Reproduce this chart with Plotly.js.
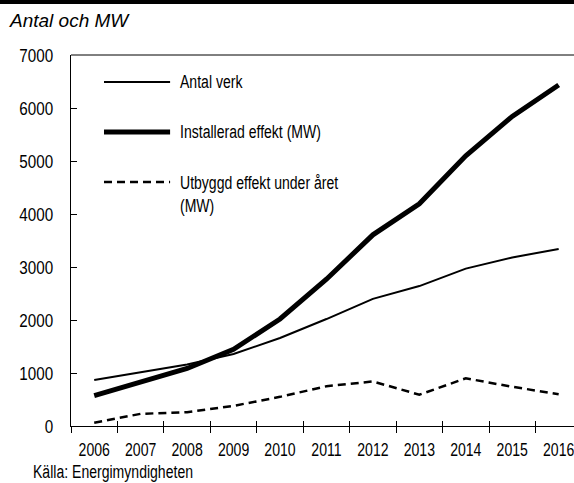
<!DOCTYPE html>
<html>
<head>
<meta charset="utf-8">
<script src="https://cdn.plot.ly/plotly-3.0.1.min.js"></script>
<style>html,body{margin:0;padding:0;background:#fff;overflow:hidden}#chart{width:574px;height:483px}</style>
</head>
<body>
<div id="chart"></div>
<script>
const years = ['2006','2007','2008','2009','2010','2011','2012','2013','2014','2015','2016'];
const antalVerk = [867, 1010, 1160, 1359, 1660, 2018, 2399, 2640, 2970, 3180, 3340];
const installeradEffekt = [572, 831, 1085, 1448, 2019, 2769, 3607, 4194, 5097, 5842, 6434];
const utbyggdEffekt = [62, 230, 260, 380, 550, 750, 840, 590, 900, 740, 600];
const seriesNames = ['Antal verk', 'Installerad effekt (MW)', 'Utbyggd effekt under året<br>(MW)'];

const FONT = '"Liberation Sans", Arial, sans-serif';
const f = (size) => ({family: FONT, size: size, color: '#000'});

const traces = [
  {x: years, y: antalVerk, name: seriesNames[0], type: 'scatter', mode: 'lines', line: {color: '#000', width: 2}},
  {x: years, y: installeradEffekt, name: seriesNames[1], type: 'scatter', mode: 'lines', line: {color: '#000', width: 5}},
  {x: years, y: utbyggdEffekt, name: seriesNames[2], type: 'scatter', mode: 'lines', line: {color: '#000', width: 2.5, dash: '8px,5px'}},
  {x: years, y: years.map(() => null), xaxis: 'x2', type: 'scatter', mode: 'lines', showlegend: false, hoverinfo: 'skip'}
];

const legY = [0.927, 0.7925, 0.6577];
const legX0 = 0.0656, legX1 = 0.197, legTX = 0.213;
const shapes = [
  {type: 'line', xref: 'paper', yref: 'paper', x0: 0, x1: 1, y0: 1, y1: 1, line: {color: '#000', width: 1}},
  {type: 'rect', xref: 'paper', yref: 'paper', x0: -0.2, x1: 1.1, y0: 1 + 51/371, y1: 1 + 56/371, fillcolor: '#000', line: {width: 0}},
];
traces.slice(0,3).forEach((t, i) => {
  shapes.push({type: 'line', xref: 'paper', yref: 'paper', x0: legX0, x1: legX1, y0: legY[i], y1: legY[i], line: {color: '#000', width: t.line.width, dash: t.line.dash || 'solid'}});
});
const annotations = traces.slice(0,3).map((t, i) => ({
  xref: 'paper', yref: 'paper', x: legTX, y: legY[i], xanchor: 'left', yanchor: i === 2 ? 'top' : 'middle',
  yshift: i === 2 ? 11 : 0,
  text: t.name, showarrow: false, align: 'left', font: f(18)
}));
annotations.push({xref: 'paper', yref: 'paper', x: -71/503 + 7/503, y: 1 + 35/371, xanchor: 'left', yanchor: 'middle', text: '<i>Antal och MW</i>', showarrow: false, align: 'left', font: {family: FONT, size: 19, color: '#000'}});
annotations.push({xref: 'paper', yref: 'paper', x: -71/503 + 31/503, y: -46/371, xanchor: 'left', yanchor: 'middle', text: 'Källa: Energimyndigheten', showarrow: false, align: 'left', font: f(18)});

const layout = {
  width: 574, height: 483,
  margin: {l: 71, r: 0, t: 55, b: 57},
  paper_bgcolor: '#fff', plot_bgcolor: '#fff',
  showlegend: false,
  font: f(18),
  xaxis: {type: 'category', range: [-0.5, 10.33], showgrid: false, zeroline: false, showline: true, linecolor: '#000', linewidth: 1,
          ticks: 'outside', ticklen: 6, tickcolor: '#000', tickson: 'boundaries', tickangle: 0, tickfont: f(19), ticklabelstandoff: 6},
  xaxis2: {type: 'category', overlaying: 'x', matches: 'x', range: [-0.5, 10.33], showgrid: false, zeroline: false, showline: false,
          ticks: 'inside', ticklen: 5, tickcolor: '#000', tickson: 'boundaries', showticklabels: false, side: 'bottom', anchor: 'y'},
  yaxis: {range: [0, 7000], dtick: 1000, showgrid: false, zeroline: false, showline: true, linecolor: '#000', linewidth: 1,
          ticks: 'inside', ticklen: 6, tickcolor: '#000', ticklabelstandoff: 13, tickfont: f(19)},
  shapes: shapes,
  annotations: annotations
};

function squeeze(nodes, k) {
  nodes.forEach(t => {
    const lines = t.querySelectorAll('tspan.line');
    const targets = lines.length ? Array.from(lines) : [t];
    targets.forEach(el => {
      const L = el.getComputedTextLength();
      if (L > 0) {
        el.setAttribute('textLength', (L * k).toFixed(2));
        el.setAttribute('lengthAdjust', 'spacingAndGlyphs');
      }
    });
  });
}

Plotly.newPlot('chart', traces, layout, {staticPlot: true, displayModeBar: false}).then(gd => {
  squeeze(gd.querySelectorAll('.xtick text'), 0.74);
  squeeze(gd.querySelectorAll('.ytick text'), 0.80);
  squeeze(Array.from(gd.querySelectorAll('.annotation-text')).filter(t => t.textContent !== 'Antal och MW'), 0.78);
});
</script>
</body>
</html>
